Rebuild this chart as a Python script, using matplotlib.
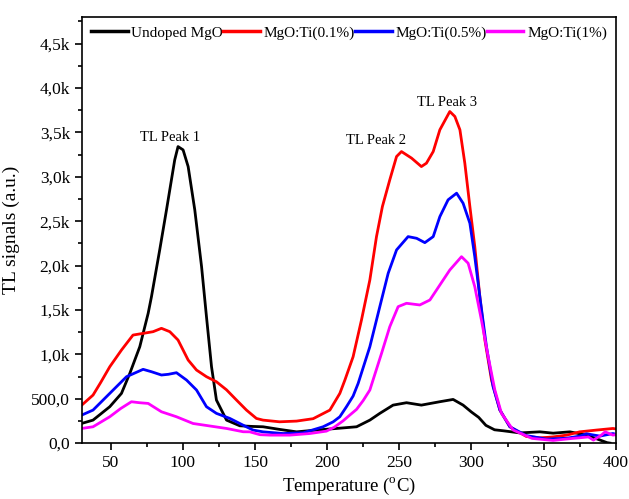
import matplotlib
matplotlib.use("Agg")
import matplotlib.pyplot as plt
from matplotlib.ticker import MultipleLocator, FuncFormatter

# ---- TL glow curves (temperature in degC, intensity in a.u.) ----
t_undoped = [30, 37.8, 49.4, 57.5, 63.3, 70.2, 76, 78.3, 84, 88.7, 94.4, 96.7,
             100.2, 103.7, 108.3, 113, 116.4, 119.9, 123.3, 130.3, 139.5, 148,
             155.6, 167.2, 178.8, 192.6, 206.5, 220.4, 229.6, 236.5, 245.7, 255,
             265.3, 278, 287.3, 294.2, 300, 305, 310, 316, 322, 333.5, 347.4,
             356.6, 368.2, 379.7, 389, 394, 396]
y_undoped = [222, 259, 410, 560, 786, 1086, 1462, 1650, 2176, 2627, 3190, 3340,
             3303, 3115, 2627, 1988, 1424, 860, 485, 259, 195, 188,
             184, 154, 127, 147, 165, 184, 259, 335, 428, 455,
             428, 466, 492, 428, 350, 290, 200, 150, 139, 115, 127,
             112, 127, 90, 35, 5, 0]

t_ti01 = [30, 37.8, 43, 49.4, 57.5, 65.5, 72.5, 79.4, 85.2, 91, 96.7, 103.7,
          109.5, 116.4, 123.3, 130.3, 137.2, 144.1, 151, 155.6, 167, 178.8,
          190.3, 201.9, 208.8, 212.3, 218, 223.8, 229.6, 234.2, 238.3, 243.4,
          248.1, 251.5, 258.5, 265.3, 268.8, 273.5, 278.1, 285, 288.5, 292,
          295.4, 298.9, 302.3, 305.8, 309.3, 313.9, 319.7, 326.6, 338, 347.4,
          352, 356.6, 366, 375, 386.7, 398, 400]
y_ti01 = [428, 541, 680, 860, 1048, 1217, 1236, 1255, 1293, 1255, 1161, 936,
          823, 748, 691, 600, 485, 372, 278, 259, 240, 248,
          275, 372, 560, 710, 973, 1387, 1838, 2326, 2665, 2965,
          3228, 3284, 3210, 3115, 3153, 3284, 3529, 3735, 3679, 3529,
          3153, 2665, 2213, 1650, 1161, 710, 372, 184, 75, 60,
          64, 70, 90, 127, 147, 165, 160]

t_ti05 = [30, 37.8, 49.4, 61, 72.5, 78.3, 85.2, 90, 95.6, 102.6, 109.5, 116.4,
          123.3, 132.6, 139.5, 144, 148.7, 155.6, 169.5, 183.4, 197.2, 204.2,
          208.8, 213.4, 218, 221.5, 229.6, 236.5, 242.3, 248.1, 256.1, 262,
          267.7, 273.5, 278.1, 283.8, 289.7, 294.2, 298.9, 302.3, 305.8, 310.4,
          315, 319.7, 326.6, 338, 352, 366, 375, 379.7, 389, 398, 400]
y_ti05 = [316, 372, 560, 748, 831, 804, 767, 775, 793, 710, 598, 410,
          335, 278, 221, 184, 147, 127, 108, 116, 184, 240,
          297, 410, 530, 673, 1086, 1537, 1913, 2176, 2326, 2307,
          2258, 2326, 2551, 2740, 2815, 2702, 2477, 2100, 1650, 1086,
          635, 372, 184, 85, 45, 55, 79, 105, 79, 108, 100]

t_ti1 = [30, 37.8, 49.4, 57, 64.4, 70, 76, 85.2, 95.6, 107.1, 118.7, 130.3,
         141.8, 146.4, 153.4, 160.3, 174.1, 188, 199.5, 205, 211, 216, 220.4,
         225, 229.6, 237.7, 243.4, 249.2, 255, 264.2, 271.2, 278.1, 285, 293.1,
         297.7, 302.3, 306.9, 311.6, 316.2, 320.8, 328.9, 342, 356.6, 370, 375,
         381, 384.5, 390, 392.6, 398, 400]
y_ti1 = [165, 184, 297, 390, 466, 455, 447, 353, 297, 221, 193, 165,
         128, 127, 95, 90, 90, 108, 135, 180, 250, 320, 380,
         480, 598, 1011, 1311, 1537, 1575, 1556, 1612, 1781, 1950, 2100,
         2026, 1762, 1387, 973, 598, 335, 147, 53, 30, 53, 60,
         70, 34, 90, 127, 90, 95]

series_labels = ["Undoped MgO", "MgO:Ti(0.1%)", "MgO:Ti(0.5%)", "MgO:Ti(1%)"]
series_colors = ["#000000", "#ff0000", "#0000ff", "#ff00ff"]

peak_labels = ["TL Peak 1", "TL Peak 2", "TL Peak 3"]
peak_pos = [(91, 3440), (234, 3410), (283, 3835)]

plt.rcParams["font.family"] = ["Liberation Serif", "DejaVu Serif"]
plt.rcParams["mathtext.fontset"] = "custom"
plt.rcParams["mathtext.rm"] = "Liberation Serif"

fig = plt.figure(figsize=(6.29, 4.99), dpi=100)
ax = fig.add_axes([0.130, 0.112, 0.849, 0.854])

curves = [(t_undoped, y_undoped), (t_ti01, y_ti01), (t_ti05, y_ti05), (t_ti1, y_ti1)]
for (t, y), lab, col in zip(curves, series_labels, series_colors):
    ax.plot(t, y, color=col, lw=2.0, label=lab, solid_joinstyle="round")

for txt, (px, py) in zip(peak_labels, peak_pos):
    ax.text(px, py, txt, ha="center", va="center", fontsize=10.5)

ax.set_xlim(30, 400)
ax.set_ylim(0, 4800)
ax.xaxis.set_major_locator(MultipleLocator(50))
ax.xaxis.set_minor_locator(MultipleLocator(25))
ax.yaxis.set_major_locator(MultipleLocator(500))
ax.yaxis.set_minor_locator(MultipleLocator(250))


def fmt_y(v, pos):
    if v >= 1000:
        return ("%.1fk" % (v / 1000)).replace(".", ",")
    return ("%.1f" % v).replace(".", ",")


ax.yaxis.set_major_formatter(FuncFormatter(fmt_y))
ax.tick_params(which="both", direction="out", top=False, right=False,
               labelsize=12.5, width=1.2)
ax.tick_params(which="major", length=5)
ax.tick_params(which="minor", length=3)
for s in ax.spines.values():
    s.set_linewidth(1.2)

ax.set_xlabel(r"Temperature ($^{\rm o}$C)", fontsize=13.5)
ax.set_ylabel("TL signals (a.u.)", fontsize=14)
ax.xaxis.set_label_coords(0.5, -0.076)
ax.yaxis.set_label_coords(-0.116, 0.5)

leg = ax.legend(loc="upper left", bbox_to_anchor=(0.0, 1.0), ncol=4, frameon=False,
                fontsize=11, handlelength=2.4, handletextpad=0.25,
                columnspacing=0.0, borderaxespad=0.3, borderpad=0.3)
for h in leg.get_lines():
    h.set_linewidth(2.5)

fig.savefig("out.png", dpi=100)
